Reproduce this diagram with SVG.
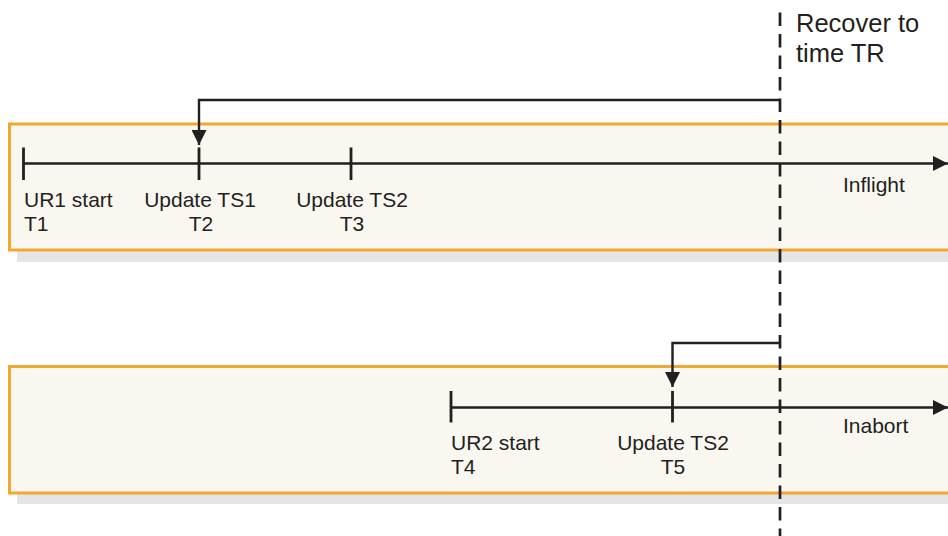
<svg xmlns="http://www.w3.org/2000/svg" width="948" height="536" viewBox="0 0 948 536">
<defs>
<style>
.shadow{fill:#e5e5e7}
.box{fill:#faf7f1;stroke:#f0a830;stroke-width:3}
.line{stroke:#231f20;stroke-width:2.4;fill:none}
.tick{stroke:#231f20;stroke-width:2.8}
.dash{stroke:#231f20;stroke-width:2.7;stroke-dasharray:13.5 8}
text{font-family:"Liberation Sans",Arial,Helvetica,sans-serif;font-size:21px;fill:#231f20}
.big{font-size:25.5px}
.mid{text-anchor:middle}
</style>
<marker id="ah" viewBox="0 0 14 14" refX="14" refY="7" markerWidth="15" markerHeight="15" markerUnits="userSpaceOnUse" orient="auto">
<path d="M0,0 L14,7 L0,14 Z" fill="#231f20"/>
</marker>
</defs>
<g id="box-ur1">
<rect class="shadow" x="17" y="135" width="940" height="127"/>
<rect class="box" x="9.5" y="124" width="960" height="126"/>
</g>
<g id="box-ur2">
<rect class="shadow" x="17" y="377" width="940" height="127"/>
<rect class="box" x="9.5" y="366.5" width="960" height="126.5"/>
</g>
<g id="timeline-ur1">
<line class="line" x1="23" y1="163.5" x2="948" y2="163.5" marker-end="url(#ah)"/>
<line class="tick" x1="23.5" y1="147.5" x2="23.5" y2="180"/>
<line class="tick" x1="199" y1="147.5" x2="199" y2="180"/>
<line class="tick" x1="351" y1="147.5" x2="351" y2="180"/>
<text x="24" y="206.5">UR1 start</text>
<text x="24" y="230.5">T1</text>
<text class="mid" x="200" y="206.5">Update TS1</text>
<text class="mid" x="201" y="230.5">T2</text>
<text class="mid" x="352" y="206.5">Update TS2</text>
<text class="mid" x="352" y="230.5">T3</text>
<text x="843" y="192">Inflight</text>
</g>
<g id="timeline-ur2">
<line class="line" x1="451" y1="407.5" x2="948" y2="407.5" marker-end="url(#ah)"/>
<line class="tick" x1="451" y1="391" x2="451" y2="422.5"/>
<line class="tick" x1="672.5" y1="391" x2="672.5" y2="422.5"/>
<text x="451" y="450">UR2 start</text>
<text x="451" y="474">T4</text>
<text class="mid" x="673" y="450">Update TS2</text>
<text class="mid" x="673" y="474">T5</text>
<text x="843" y="433">Inabort</text>
</g>
<g id="recover-marker">
<line class="dash" x1="780" y1="12.5" x2="780" y2="536"/>
<text class="big" x="796" y="31.5">Recover to</text>
<text class="big" x="796" y="62">time TR</text>
</g>
<g id="connectors">
<path class="line" d="M780,100 H199 V145" marker-end="url(#ah)"/>
<path class="line" d="M780,343 H672.5 V387" marker-end="url(#ah)"/>
</g>
</svg>
